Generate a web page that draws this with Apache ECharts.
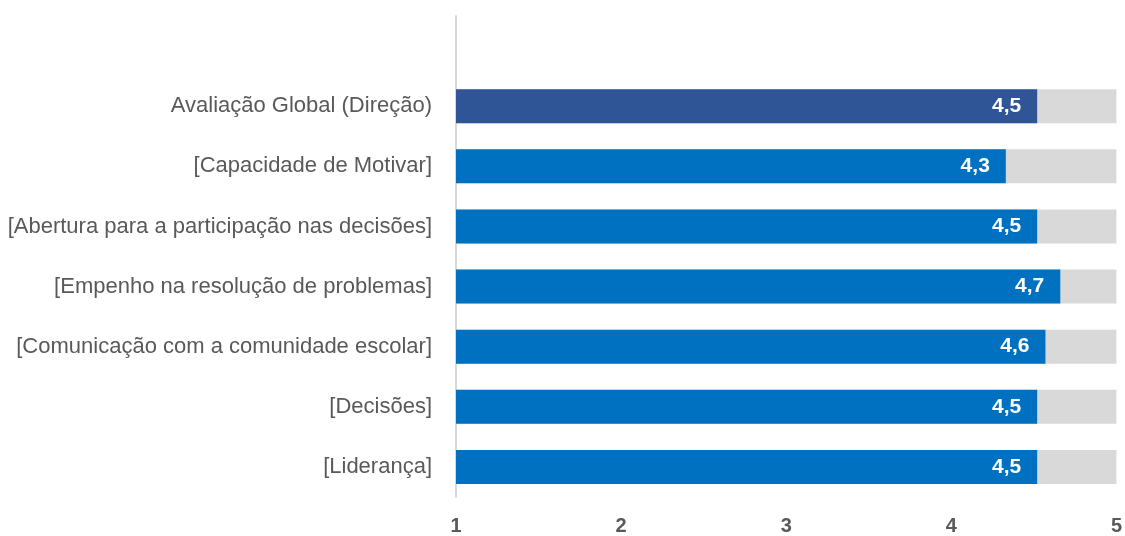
<!DOCTYPE html>
<html>
<head>
<meta charset="utf-8">
<script src="https://cdn.jsdelivr.net/npm/echarts@6/dist/echarts.min.js"></script>
<style>
  html, body { margin: 0; padding: 0; background: #fff; }
  #chart { width: 1125px; height: 536px; }
</style>
</head>
<body>
<div id="chart"></div>
<script>
// categories top to bottom (first slot is an empty row in the original sheet)
const categories = [
  '',
  'Avaliação Global (Direção)',
  '[Capacidade de Motivar]',
  '[Abertura para a participação nas decisões]',
  '[Empenho na resolução de problemas]',
  '[Comunicação com a comunidade escolar]',
  '[Decisões]',
  '[Liderança]'
]
const scores = ['-', 4.52, 4.33, 4.52, 4.66, 4.57, 4.52, 4.52]
const scaleMax = ['-', 5, 5, 5, 5, 5, 5, 5]
const xTicks = [1, 2, 3, 4, 5]

const font = '"Liberation Sans Narrow", "Arial Narrow", "Liberation Sans", sans-serif'

const chart = echarts.init(document.getElementById('chart'))
chart.setOption({
  animation: false,
  backgroundColor: '#fff',
  grid: { left: 456, right: 4, top: 16, bottom: 37 },
  xAxis: {
    type: 'value',
    min: xTicks[0],
    max: xTicks[xTicks.length - 1],
    interval: 1,
    axisLine: { show: false },
    axisTick: { show: false },
    splitLine: { show: false },
    axisLabel: {
      color: '#595959',
      fontFamily: font,
      fontWeight: 'bold',
      fontSize: 20,
      margin: 19
    }
  },
  yAxis: {
    type: 'category',
    inverse: true,
    data: categories,
    axisLine: { show: true, lineStyle: { color: '#D9D9D9', width: 2 } },
    axisTick: { show: false },
    axisLabel: {
      color: '#595959',
      fontFamily: font,
      fontSize: 22,
      margin: 24
    }
  },
  series: [
    {
      name: 'escala',
      type: 'bar',
      data: scaleMax,
      barWidth: 34,
      silent: true,
      itemStyle: { color: '#D9D9D9' },
      z: 1
    },
    {
      name: 'média',
      type: 'bar',
      data: scores.map((v, i) => i === 1
        ? { value: v, itemStyle: { color: '#2F5597' } }
        : v),
      barWidth: 34,
      barGap: '-100%',
      itemStyle: { color: '#0070C0' },
      z: 2,
      label: {
        show: true,
        position: 'insideRight',
        distance: 16,
        color: '#fff',
        fontFamily: font,
        fontWeight: 'bold',
        fontSize: 21,
        formatter: p => p.value.toFixed(1).replace('.', ',')
      }
    }
  ]
})
</script>
</body>
</html>
